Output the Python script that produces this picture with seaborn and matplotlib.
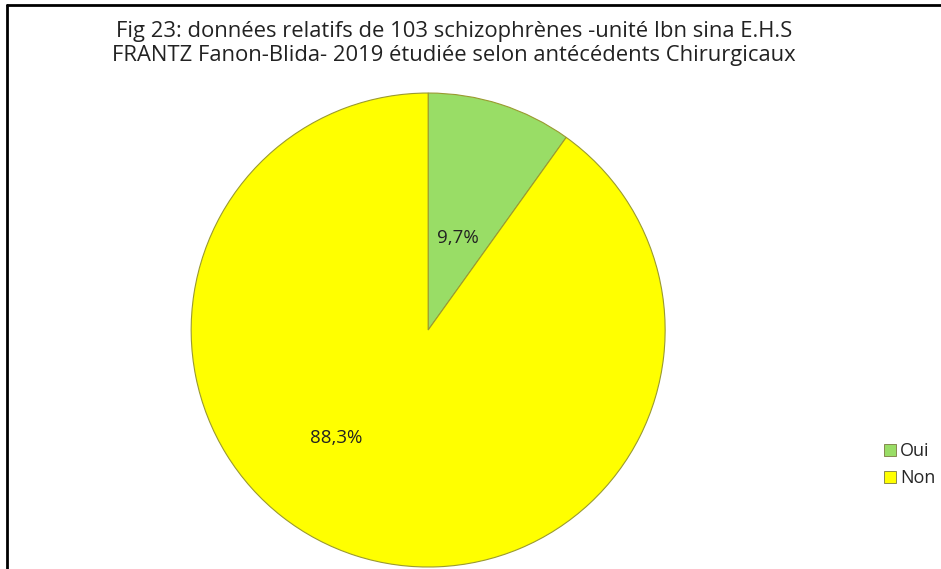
import matplotlib
matplotlib.use('Agg')
import matplotlib.pyplot as plt
import seaborn as sns
from matplotlib.lines import Line2D
from matplotlib.patches import Patch

# data
categories = ['Oui', 'Non']
values = [9.7, 88.3]
labels = ['9,7%', '88,3%']
colors = ['#99dd66', '#ffff00']
title = ('Fig 23: données relatifs de 103 schizophrènes -unité Ibn sina E.H.S\n'
         'FRANTZ Fanon-Blida- 2019 étudiée selon antécédents Chirurgicaux')

sns.set_theme(style='white')
plt.rcParams['font.family'] = ['Open Sans', 'DejaVu Sans']

fig = plt.figure(figsize=(9.41, 5.69), dpi=100)
ax = fig.add_axes([0.202, 0.0035, 0.506, 0.833])

wedges, texts = ax.pie(values, colors=colors, startangle=90, counterclock=False,
                       wedgeprops=dict(edgecolor='#9a9a30', linewidth=0.8))
ax.set_xlim(-1, 1)
ax.set_ylim(-1, 1)
ax.set_aspect('equal')

# slice labels
ax.text(0.126, 0.39, labels[0], ha='center', va='center', fontsize=13.5, color='#222222')
ax.text(-0.39, -0.454, labels[1], ha='center', va='center', fontsize=13.5, color='#222222')

fig.text(0.4825, 0.923, title, ha='center', va='center', fontsize=15.8,
         linespacing=1.2, color='#222222')

handles = [Patch(facecolor=c, edgecolor='#7a7a40', linewidth=0.6) for c in colors]
fig.legend(handles, categories, loc='center left', bbox_to_anchor=(0.939, 0.183),
           frameon=False, fontsize=13, handlelength=0.7, handleheight=0.7,
           handletextpad=0.2, labelspacing=0.5, borderaxespad=0, borderpad=0)

# outer frame lines (top and left)
fig.add_artist(Line2D([7 / 941, 1], [1 - 5 / 569, 1 - 5 / 569], color='black', lw=2,
                      transform=fig.transFigure))
fig.add_artist(Line2D([7 / 941, 7 / 941], [0, 1 - 5 / 569], color='black', lw=2,
                      transform=fig.transFigure))

fig.savefig('out.png', dpi=100)
